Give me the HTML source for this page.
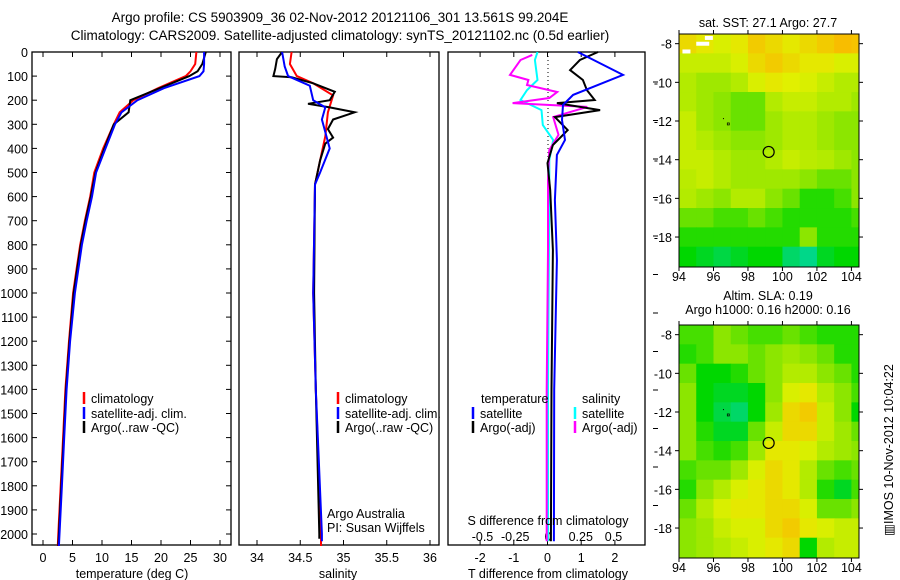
<!DOCTYPE html>
<html><head><meta charset="utf-8">
<style>
body{margin:0;background:#fff;}
svg{display:block;font-family:"Liberation Sans",sans-serif;}
</style></head>
<body>
<svg id="fig" width="900" height="580" viewBox="0 0 900 580">
<text x="340" y="22" font-size="13.5" text-anchor="middle">Argo profile: CS 5903909_36 02-Nov-2012 20121106_301 13.561S 99.204E</text>
<text x="340" y="40" font-size="13.5" text-anchor="middle">Climatology: CARS2009. Satellite-adjusted climatology: synTS_20121102.nc (0.5d earlier)</text>
<g id="g"></g>
<text transform="translate(893,450) rotate(-90)" font-size="12.5" text-anchor="middle">▥IMOS 10-Nov-2012 10:04:22</text>
</svg>
<script>
// ---------- data ----------
const tDepth=[0,50,80,100,150,200,250,300,400,500,600,700,800,900,1000,1200,1400,1600,1800,2000,2050];
const tClim=[26,25.8,25,24.2,19.5,15.3,13,12,10.2,8.7,8,7.1,6.3,5.7,5.1,4.4,3.8,3.4,3,2.6,2.5];
const tSat=[27.3,27.3,27.2,26.5,20.5,16,13.3,12.2,10.6,9,8.3,7.4,6.6,6,5.4,4.6,4,3.6,3.2,2.8,2.7];
const tArgo=[27.6,27,26.2,24.8,19.8,14.8,14.5,12,10.4,8.9,8.1,7.2,6.4,5.8,5.2,4.5,3.9,3.5,3.1,2.7,2.6];
const sClimDepth=[0,50,100,130,180,250,350,450,550,1000,1400,2000,2050];
const sClim=[34.4,34.38,34.46,34.65,34.88,34.82,34.79,34.73,34.67,34.65,34.68,34.74,34.74];
const sSatDepth=[0,60,100,140,200,230,280,400,500,550,1000,1400,2000,2030];
const sSat=[34.29,34.32,34.36,34.61,34.65,34.79,34.75,34.84,34.73,34.67,34.65,34.68,34.75,34.75];
const sArgoDepth=[0,30,70,100,105,130,165,200,215,230,250,280,320,355,380,450,550,1000,1400,2000,2020];
const sArgo=[34.29,34.23,34.21,34.19,34.4,34.65,34.9,34.84,34.59,34.84,35.13,34.88,34.82,34.88,34.79,34.73,34.67,34.66,34.68,34.72,34.72];
const dtSatDepth=[0,95,178,220,282,365,427,614,863,1400,2030];
const dtSat=[0.9,2.24,0.76,0.46,0.43,0.52,0.28,0.22,0.28,0.2,0.19];
const dtArgoDepth=[0,33,75,116,158,199,212,241,270,324,386,461,573,822,1400,2030];
const dtArgo=[1.5,0.96,0.67,1.05,1.17,1.4,0.28,1.56,0.22,0.6,0.16,0,0.08,0.16,0.12,0.1];
const dsSatDepth=[0,33,116,158,199,241,303,365,448,614,1400,2030];
const dsSat=[-0.08,-0.1,-0.08,-0.16,-0.21,-0.05,-0.04,0.04,0.01,0.01,0.0,0.0];
const dsArgoDepth=[12,33,95,116,137,166,191,212,228,270,344,407,531,822,1400,2030];
const dsArgo=[-0.12,-0.21,-0.29,-0.15,-0.16,0.07,0.01,-0.27,0.3,0.04,0.08,0.01,0,0,-0.01,-0.01];
const depthTicks=[0,100,200,300,400,500,600,700,800,900,1000,1100,1200,1300,1400,1500,1600,1700,1800,1900,2000];
const tTicks=[0,5,10,15,20,25,30];
const sTicks=[34,34.5,35,35.5,36];
const dtTicks=[-2,-1,0,1,2];
const dsTicks=[-0.5,-0.25,0,0.25,0.5];
const dsTickLabels=["-0.5","-0.25","0","0.25","0.5"];
const lonTicks=[94,96,98,100,102,104];
const latTicks=[-8,-10,-12,-14,-16,-18];
const sstGrid=[
[0.8,0.75,0.7,0.75,0.85,0.8,0.75,0.8,0.85,0.9,0.88],
[0.65,0.65,0.65,0.7,0.8,0.85,0.8,0.75,0.75,0.7,0.7],
[0.6,0.55,0.55,0.6,0.7,0.75,0.72,0.7,0.65,0.6,0.6],
[0.6,0.55,0.5,0.45,0.45,0.6,0.65,0.65,0.6,0.6,0.55],
[0.65,0.55,0.5,0.45,0.45,0.55,0.6,0.6,0.55,0.5,0.5],
[0.65,0.6,0.55,0.5,0.5,0.55,0.6,0.6,0.55,0.5,0.5],
[0.65,0.65,0.6,0.55,0.55,0.6,0.65,0.62,0.6,0.55,0.5],
[0.62,0.65,0.6,0.55,0.55,0.55,0.55,0.5,0.45,0.45,0.5],
[0.6,0.55,0.5,0.6,0.6,0.5,0.45,0.35,0.35,0.4,0.5],
[0.45,0.45,0.4,0.4,0.45,0.4,0.35,0.35,0.35,0.35,0.4],
[0.35,0.35,0.35,0.35,0.35,0.35,0.35,0.5,0.35,0.35,0.35],
[0.3,0.25,0.2,0.25,0.3,0.3,0.15,0.1,0.25,0.3,0.3]];
const slaGrid=[
[0.4,0.4,0.5,0.45,0.4,0.4,0.45,0.4,0.35,0.35,0.35],
[0.35,0.4,0.5,0.5,0.45,0.5,0.55,0.5,0.45,0.35,0.35],
[0.45,0.3,0.3,0.35,0.45,0.5,0.6,0.6,0.5,0.45,0.35],
[0.5,0.3,0.25,0.25,0.3,0.5,0.7,0.75,0.6,0.5,0.4],
[0.5,0.3,0.2,0.15,0.3,0.55,0.8,0.85,0.65,0.5,0.3],
[0.5,0.35,0.25,0.25,0.45,0.65,0.8,0.8,0.65,0.55,0.45],
[0.5,0.4,0.35,0.4,0.55,0.75,0.75,0.7,0.6,0.55,0.5],
[0.4,0.45,0.45,0.55,0.7,0.8,0.75,0.6,0.45,0.4,0.45],
[0.35,0.5,0.6,0.7,0.75,0.8,0.75,0.6,0.35,0.25,0.4],
[0.45,0.6,0.7,0.75,0.75,0.8,0.8,0.7,0.45,0.45,0.5],
[0.5,0.55,0.65,0.7,0.7,0.8,0.85,0.75,0.7,0.65,0.65],
[0.5,0.55,0.6,0.65,0.7,0.75,0.8,0.3,0.6,0.65,0.65]];
const floatLon=99.2, floatLat=-13.6;

// ---------- helpers ----------
const NS="http://www.w3.org/2000/svg";
const G=document.getElementById('g');
function mk(tag,at,parent){const e=document.createElementNS(NS,tag);for(const k in at)e.setAttribute(k,at[k]);(parent||G).appendChild(e);return e;}
const yD=d=>52+d*0.241;
const xT=v=>43+v*5.9;
const xS=v=>257+(v-34)*86.5;
const xDT=v=>547.5+v*33.7;
const xDS=v=>548+v*131;

function line(xs,ds,xf,color,name,w){
  const pts=xs.map((v,i)=>xf(v).toFixed(1)+','+yD(ds[i]).toFixed(1)).join(' ');
  const p=mk('polyline',{points:pts,fill:'none',stroke:color,'stroke-width':w||2});
  
  
}
function frame(x0,x1,name){
  const r=mk('rect',{x:x0,y:52,width:x1-x0,height:493,fill:'none',stroke:'#000','stroke-width':1.3});
  
  
}
function xticks(vals,xf,labels,ly){
  vals.forEach((v,i)=>{
    const x=xf(v);
    mk('line',{x1:x,x2:x,y1:52,y2:57,stroke:'#000'});
    mk('line',{x1:x,x2:x,y1:545,y2:540,stroke:'#000'});
    if(labels){const t=mk('text',{x:x,y:ly,'font-size':12.5,'text-anchor':'middle'});t.textContent=labels[i];
      
      }
  });
}
function txt(x,y,s,name,anchor,size){const t=mk('text',{x:x,y:y,'font-size':size||12.5,'text-anchor':anchor||'start'});t.textContent=s;
  
  return t;}
function legend(x,y,color,label){
  mk('line',{x1:x,x2:x,y1:y-11,y2:y+1,stroke:color,'stroke-width':2.5});
  txt(x+7,y,label,'legend-entry');
}

// ---------- panel 1: temperature ----------
frame(32,231,'temperature-panel');
depthTicks.forEach(d=>{const y=yD(d);mk('line',{x1:32,x2:37,y1:y,y2:y,stroke:'#000'});mk('line',{x1:231,x2:226,y1:y,y2:y,stroke:'#000'});
  txt(28,y+5,String(d),'depth-tick-label','end');});
xticks(tTicks,xT,tTicks.map(String),562);
line(tClim,tDepth,xT,'#f00','temp-climatology-line');
line(tArgo,tDepth,xT,'#000','temp-argo-line');
line(tSat,tDepth,xT,'#00f','temp-satellite-line');
legend(84,403,'#f00','climatology');legend(84,418,'#00f','satellite-adj. clim.');legend(84,432,'#000','Argo(..raw -QC)');
txt(132,578,'temperature (deg C)','temperature-axis-title','middle');

// ---------- panel 2: salinity ----------
frame(239,439,'salinity-panel');
xticks(sTicks,xS,sTicks.map(String),562);
line(sClim,sClimDepth,xS,'#f00','sal-climatology-line');
line(sArgo,sArgoDepth,xS,'#000','sal-argo-line');
line(sSat,sSatDepth,xS,'#00f','sal-satellite-line');
legend(338,403,'#f00','climatology');legend(338,418,'#00f','satellite-adj. clim.');legend(338,432,'#000','Argo(..raw -QC)');
txt(327,518,'Argo Australia','argo-australia-credit');
txt(327,532,'PI: Susan Wijffels','pi-credit');
txt(338,578,'salinity','salinity-axis-title','middle');

// ---------- panel 3: differences ----------
frame(448,645,'difference-panel');
xticks(dtTicks,xDT,dtTicks.map(String),562);
dsTicks.forEach((v,i)=>txt(xDS(v),541,dsTickLabels[i],'s-diff-tick-label','middle'));
mk('line',{x1:548,x2:548,y1:52,y2:190,stroke:'#000','stroke-dasharray':'1,3'});
line(dsSat,dsSatDepth,xDS,'#0ff','sdiff-satellite-line');
line(dsArgo,dsArgoDepth,xDS,'#f0f','sdiff-argo-line');
line(dtArgo,dtArgoDepth,xDT,'#000','tdiff-argo-line');
line(dtSat,dtSatDepth,xDT,'#00f','tdiff-satellite-line');
txt(481,403,'temperature','legend-temperature-heading');
txt(582,403,'salinity','legend-salinity-heading');
legend(473,418,'#00f','satellite');legend(473,432,'#000','Argo(-adj)');
legend(575,418,'#0ff','satellite');legend(575,432,'#f0f','Argo(-adj)');
txt(548,525,'S difference from climatology','s-diff-axis-title','middle');
txt(548,578,'T difference from climatology','t-diff-axis-title','middle');
for(let y=82;y<540;y+=38.5){mk('line',{x1:653,x2:658,y1:y,y2:y,stroke:'#000'});}

// ---------- maps ----------
function cmap(v){
  const stops=[[0,[0,215,205]],[0.3,[0,215,0]],[0.5,[140,230,0]],[0.72,[225,240,0]],[0.95,[255,175,0]],[1,[255,150,0]]];
  for(let i=1;i<stops.length;i++){if(v<=stops[i][0]){const a=stops[i-1],b=stops[i],f=(v-a[0])/(b[0]-a[0]);
    return 'rgb('+a[1].map((c,k)=>Math.round(c+(b[1][k]-c)*f)).join(',')+')';}}
  return 'rgb(255,150,0)';
}
function drawMap(grid,top,name){
  const L=679,R=859,B=top+233,lon0=94,lon1=104.44,lat0=-7.5,lat1=-19.55;
  const xm=lo=>L+(lo-lon0)/(lon1-lon0)*(R-L);
  const ym=la=>top+(lat0-la)/(lat0-lat1)*(B-top);
  const g=mk('g',{});
  
  
  grid.forEach((row,r)=>row.forEach((v,c)=>{
    const la0=r===0?lat0:-7.5-r, la1=r===grid.length-1?lat1:-8.5-r;
    const lo0=lon0+c, lo1=Math.min(lon0+c+1,lon1);
    const x=xm(lo0),y=ym(la0);
    const cell=mk('rect',{x:x,y:y,width:xm(lo1)-x+0.5,height:ym(la1)-y+0.5,fill:cmap(v)},g);
    
    
  }));
  mk('rect',{x:L,y:top,width:R-L,height:B-top,fill:'none',stroke:'#000','stroke-width':1});
  lonTicks.forEach(lo=>{const x=xm(lo);mk('line',{x1:x,x2:x,y1:top,y2:top-4,stroke:'#000'});mk('line',{x1:x,x2:x,y1:B,y2:B+4,stroke:'#000'});
    txt(x,B+14,String(lo),'lon-tick-label','middle');});
  latTicks.forEach(la=>{const y=ym(la);mk('line',{x1:L,x2:L-4,y1:y,y2:y,stroke:'#000'});mk('line',{x1:R,x2:R+4,y1:y,y2:y,stroke:'#000'});
    txt(L-7,y+5,String(la),'lat-tick-label','end');});
  const c=mk('circle',{cx:xm(floatLon),cy:ym(floatLat),r:5.5,fill:'none',stroke:'#000','stroke-width':1.2});
  
  
  mk('rect',{x:xm(96.8),y:ym(-12.1),width:2,height:2,fill:'none',stroke:'#000','stroke-width':0.7});
  mk('rect',{x:xm(96.55),y:ym(-11.85),width:1,height:1,fill:'#000'});
  return {xm,ym};
}
const m1=drawMap(sstGrid,34,'sst-map');
mk('rect',{x:m1.xm(94.2),y:m1.ym(-8.3),width:8,height:4,fill:'#fff'});
mk('rect',{x:m1.xm(95),y:m1.ym(-7.9),width:13,height:4,fill:'#fff'});
mk('rect',{x:m1.xm(95.5),y:m1.ym(-7.6),width:8,height:4,fill:'#fff'});
txt(768,27,'sat. SST: 27.1 Argo: 27.7','sst-map-title','middle');
drawMap(slaGrid,325,'sla-map');
txt(768,300,'Altim. SLA: 0.19','sla-map-title','middle');
txt(768,314,'Argo h1000: 0.16 h2000: 0.16','sla-map-subtitle','middle');
</script>
</body></html>
